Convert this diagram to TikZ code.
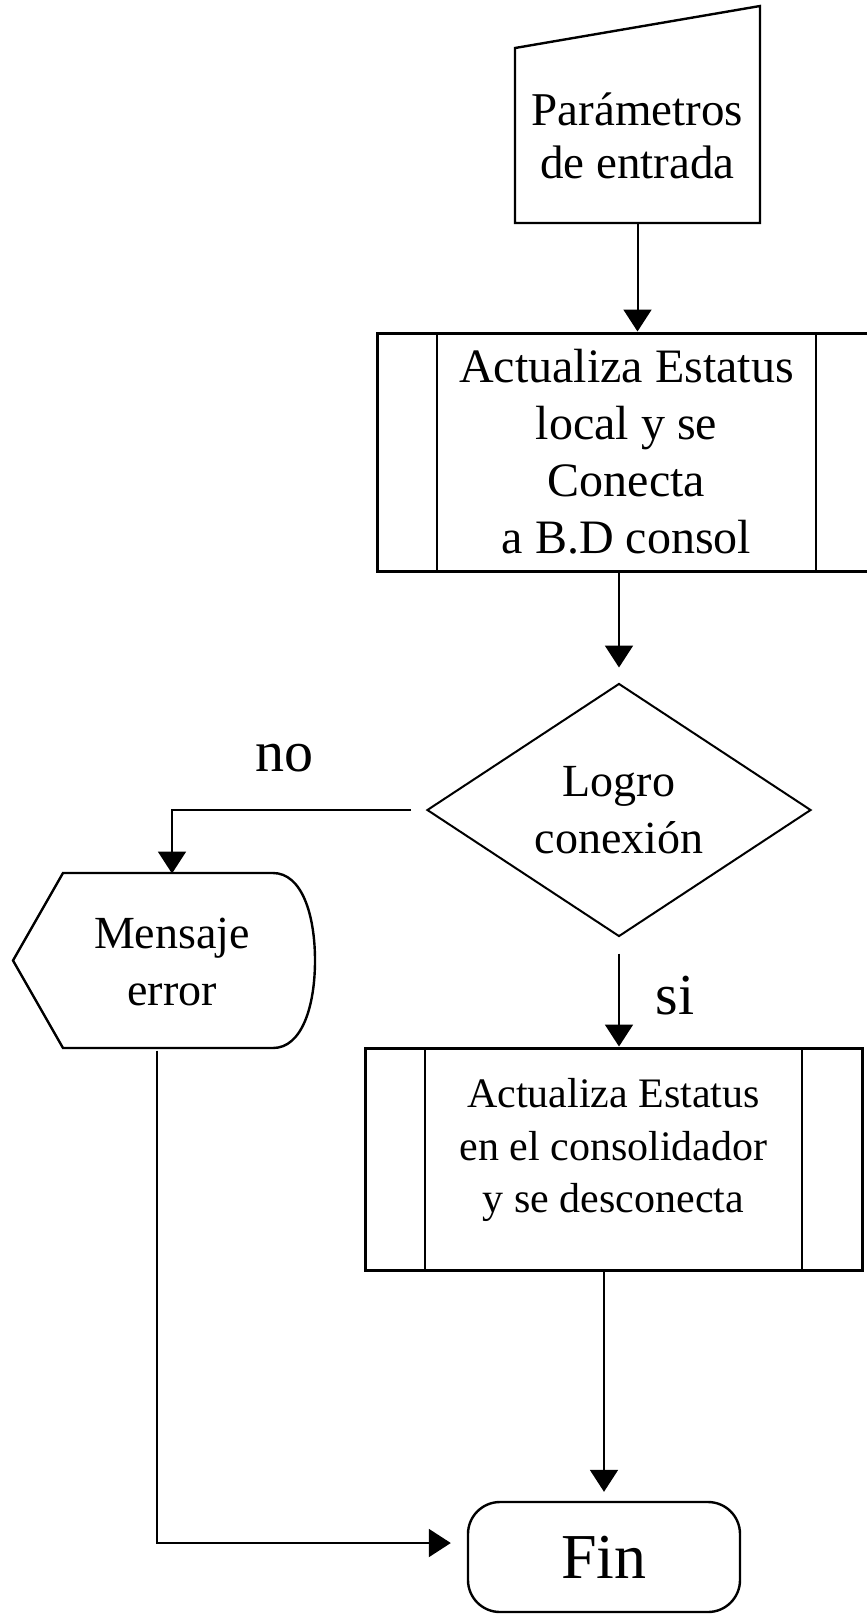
\documentclass[tikz,border=0pt]{standalone}
\usepackage{fontspec}
\setmainfont{Liberation Serif}
\usetikzlibrary{shapes.geometric,arrows.meta}

\tikzset{
  subproc/.style={draw, line width=1.5pt, rectangle, inner sep=0pt, align=center,
    path picture={
      \draw[line width=1.1pt] ([xshift=30pt]path picture bounding box.north west) -- ([xshift=30pt]path picture bounding box.south west);
      \draw[line width=1.1pt] ([xshift=-30pt]path picture bounding box.north east) -- ([xshift=-30pt]path picture bounding box.south east);
    }},
  txt/.style={inner sep=0pt, align=center, font=\fontsize{23}{28.5}\selectfont},
}

\begin{document}
\begin{tikzpicture}[x=0.5pt, y=-0.5pt, >={Triangle[width=14pt,length=11pt]}, line width=1pt]
        \useasboundingbox (0,0) rectangle (867,1614);

        \node[txt, minimum width=121.5pt, minimum height=86.5pt, font=\fontsize{23.5}{26.5}\selectfont] (entrada) at (637.5,135.5) {Parámetros\\de entrada};
        \draw[line width=1.2pt] (entrada.south west) -- (entrada.south east) -- ([yshift=21pt]entrada.north east) -- (entrada.north west) -- cycle;

        \node[subproc, minimum width=249.5pt, minimum height=119pt, font=\fontsize{24}{28.5}\selectfont] (actlocal) at (626.5,452) {Actualiza Estatus\\local y se\\Conecta\\a B.D consol};

        \node[txt, draw, diamond, aspect=1.5, minimum width=192pt, minimum height=126.5pt] (logro) at (619,810) {Logro\\conexión};

        \node[txt, minimum width=100pt, minimum height=87.5pt] (msg) at (172,962) {Mensaje\\error};
        \draw[line width=1.2pt] (13,960.5) -- (63,873) -- (273,873) .. controls (302,873) and (315,915) .. (315,960.5) .. controls (315,1006) and (302,1048) .. (273,1048) -- (63,1048) -- cycle;

        \node[subproc, minimum width=248.5pt, minimum height=111pt, text depth=13.5pt, font=\fontsize{21}{26.25}\selectfont] (actcons) at (613.5,1159) {Actualiza Estatus\\en el consolidador\\y se desconecta};

        \node[draw, rounded corners=16pt, line width=1.2pt, minimum width=136pt, minimum height=55pt, font=\fontsize{32}{38}\selectfont] (fin) at (604,1557) {Fin};

        \draw[->] (entrada.south) -- (entrada.south |- actlocal.north);
        \draw[->, shorten >=7.5pt] (actlocal.south -| logro.north) -- (logro.north);
        \draw[->, shorten <=7.5pt] (logro.west) -| (msg.north);
        \draw[->, shorten <=8pt] (logro.south) -- (logro.south |- actcons.north);
        \draw[->, shorten >=4.5pt] (actcons.south -| fin.north) -- (fin.north);
        \draw[->, shorten >=8pt] ([xshift=-7.5pt]msg.south) |- ([yshift=7pt]fin.west);

        \node[font=\fontsize{29}{34}\selectfont] (no) at (284,758) {no};
        \node[font=\fontsize{29}{34}\selectfont] (si) at (675,996) {si};
\end{tikzpicture}
\end{document}
